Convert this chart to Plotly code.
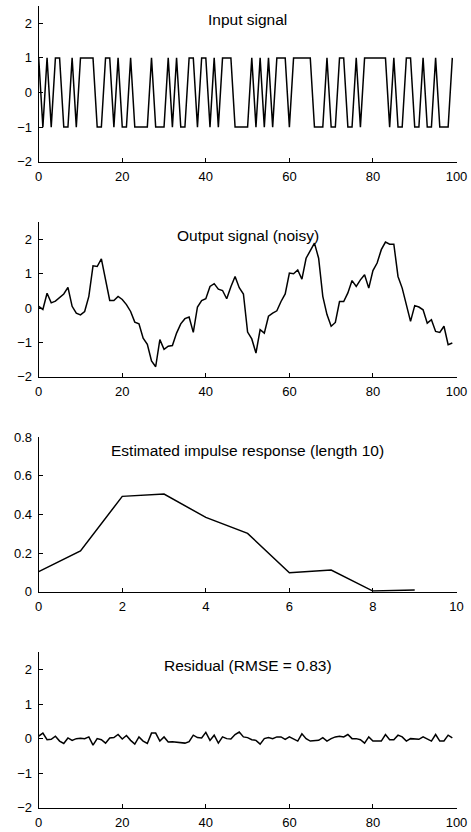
import plotly.graph_objects as go

# ---------------- data ----------------
n = list(range(100))
input_signal = [1, -1, 1, -1, 1, 1, -1, -1, 1, -1,
                1, 1, 1, 1, -1, -1, 1, 1, -1, 1,
                -1, -1, 1, -1, -1, -1, -1, 1, -1, -1,
                -1, 1, -1, 1, -1, -1, 1, 1, -1, 1,
                1, -1, 1, -1, 1, 1, 1, -1, -1, -1,
                -1, 1, -1, 1, -1, 1, -1, 1, 1, 1,
                -1, 1, 1, 1, 1, 1, -1, -1, -1, 1,
                -1, -1, 1, 1, -1, -1, 1, -1, 1, 1,
                1, 1, 1, 1, -1, 1, -1, -1, 1, 1,
                -1, -1, 1, -1, -1, 1, -1, -1, -1, 1]

output_signal = [0.05, -0.04, 0.43, 0.15, 0.20, 0.31, 0.41, 0.60, 0.05, -0.15,
                 -0.20, -0.10, 0.34, 1.23, 1.21, 1.43, 0.78, 0.22, 0.22, 0.34,
                 0.25, 0.10, -0.10, -0.41, -0.46, -0.88, -1.06, -1.54, -1.71, -0.92,
                 -1.20, -1.11, -1.09, -0.73, -0.46, -0.31, -0.26, -0.71, 0.03, 0.22,
                 0.27, 0.63, 0.71, 0.55, 0.51, 0.27, 0.62, 0.92, 0.59, 0.41,
                 -0.70, -0.90, -1.31, -0.63, -0.73, -0.24, -0.15, -0.08, 0.19, 0.41,
                 1.02, 1.00, 1.11, 0.84, 1.45, 1.68, 1.89, 1.45, 0.34, -0.19,
                 -0.53, -0.42, 0.19, 0.19, 0.44, 0.80, 0.63, 0.82, 0.97, 0.58,
                 1.09, 1.31, 1.70, 1.92, 1.86, 1.86, 0.92, 0.58, 0.10, -0.39,
                 0.07, 0.03, -0.05, -0.44, -0.34, -0.68, -0.71, -0.53, -1.07, -1.02]

lags = list(range(10))
impulse_response = [0.104, 0.211, 0.494, 0.506, 0.385, 0.302, 0.098, 0.112, 0.003, 0.009]

residual = [0.07, 0.16, -0.03, -0.02, 0.07, -0.07, -0.14, 0.02, -0.05, 0.00,
            0.01, 0.00, 0.05, -0.19, 0.00, -0.03, -0.13, 0.02, 0.03, 0.12,
            -0.01, 0.09, -0.05, -0.16, 0.05, -0.07, -0.14, 0.16, 0.16, -0.07,
            0.05, -0.10, -0.09, -0.11, -0.11, -0.13, -0.09, 0.10, 0.03, 0.02,
            0.18, -0.05, 0.10, -0.13, 0.05, 0.00, -0.01, 0.12, 0.19, 0.05,
            0.03, -0.03, -0.05, -0.16, 0.00, 0.03, 0.00, 0.05, 0.05, -0.02,
            0.05, 0.00, -0.07, 0.14, 0.00, -0.07, -0.07, -0.05, 0.03, -0.07,
            0.00, 0.05, 0.07, 0.05, 0.12, 0.00, 0.00, -0.03, -0.13, 0.05,
            -0.07, -0.07, -0.07, 0.12, -0.03, -0.03, 0.10, 0.05, -0.07, 0.00,
            0.00, -0.02, 0.05, 0.00, -0.07, 0.12, -0.07, -0.07, 0.10, 0.02]

titles = ["Input signal", "Output signal (noisy)",
          "Estimated impulse response (length 10)", "Residual (RMSE = 0.83)"]
signal_ticks_x = [0, 20, 40, 60, 80, 100]
signal_ticks_y = [-2, -1, 0, 1, 2]
impulse_ticks_x = [0, 2, 4, 6, 8, 10]
impulse_ticks_y = [0, 0.2, 0.4, 0.6, 0.8]

# ---------------- figure ----------------
W, H = 471, 832
FONT = "Liberation Sans"
x_left, x_right = 38.7, 456.5
panels_px = [(6.0, 161.7), (222.2, 376.7), (437.3, 591.7), (652.3, 807.7)]

series = [(n, input_signal), (n, output_signal), (lags, impulse_response), (n, residual)]
xranges = [[0, 100], [0, 100], [0, 10], [0, 100]]
yranges = [[-2, 2.5], [-2, 2.5], [0, 0.8], [-2, 2.5]]
xticks = [signal_ticks_x, signal_ticks_x, impulse_ticks_x, signal_ticks_x]
yticks = [signal_ticks_y, signal_ticks_y, impulse_ticks_y, signal_ticks_y]

fig = go.Figure()
layout = dict(
    template="none",
    width=W, height=H, autosize=False,
    margin=dict(l=0, r=0, t=0, b=0, pad=0),
    paper_bgcolor="white", plot_bgcolor="white",
    showlegend=False,
    font=dict(family=FONT, color="black", size=13),
)
annotations = []
for i in range(4):
    idx = "" if i == 0 else str(i + 1)
    xs, ys = series[i]
    fig.add_trace(go.Scatter(x=xs, y=ys, mode="lines",
                             line=dict(color="black", width=1.5),
                             xaxis="x" + idx, yaxis="y" + idx,
                             hoverinfo="skip"))
    top, bot = panels_px[i]
    axcommon = dict(showline=True, linecolor="black", linewidth=1,
                    ticks="inside", ticklen=4, tickwidth=1, tickcolor="black",
                    showgrid=False, zeroline=False, mirror=False,
                    automargin=False,
                    tickfont=dict(family=FONT, size=13, color="black"))
    layout["xaxis" + idx] = dict(axcommon, domain=[x_left / W, x_right / W],
                                 anchor="y" + idx, range=xranges[i],
                                 tickvals=xticks[i],
                                 ticktext=[str(v) for v in xticks[i]],
                                 ticklabelstandoff=3)
    layout["yaxis" + idx] = dict(axcommon, domain=[1 - bot / H, 1 - top / H],
                                 anchor="x" + idx, range=yranges[i],
                                 tickvals=yticks[i], ticklabelstandoff=3)
    annotations.append(dict(text=titles[i], showarrow=False,
                            xref="x" + idx + " domain", yref="y" + idx + " domain",
                            x=0.5, y=1 - 13.5 / (bot - top),
                            xanchor="center", yanchor="middle",
                            font=dict(family=FONT, size=15.5, color="black")))
layout["annotations"] = annotations
fig.update_layout(**layout)
fig.write_html("out.html")
